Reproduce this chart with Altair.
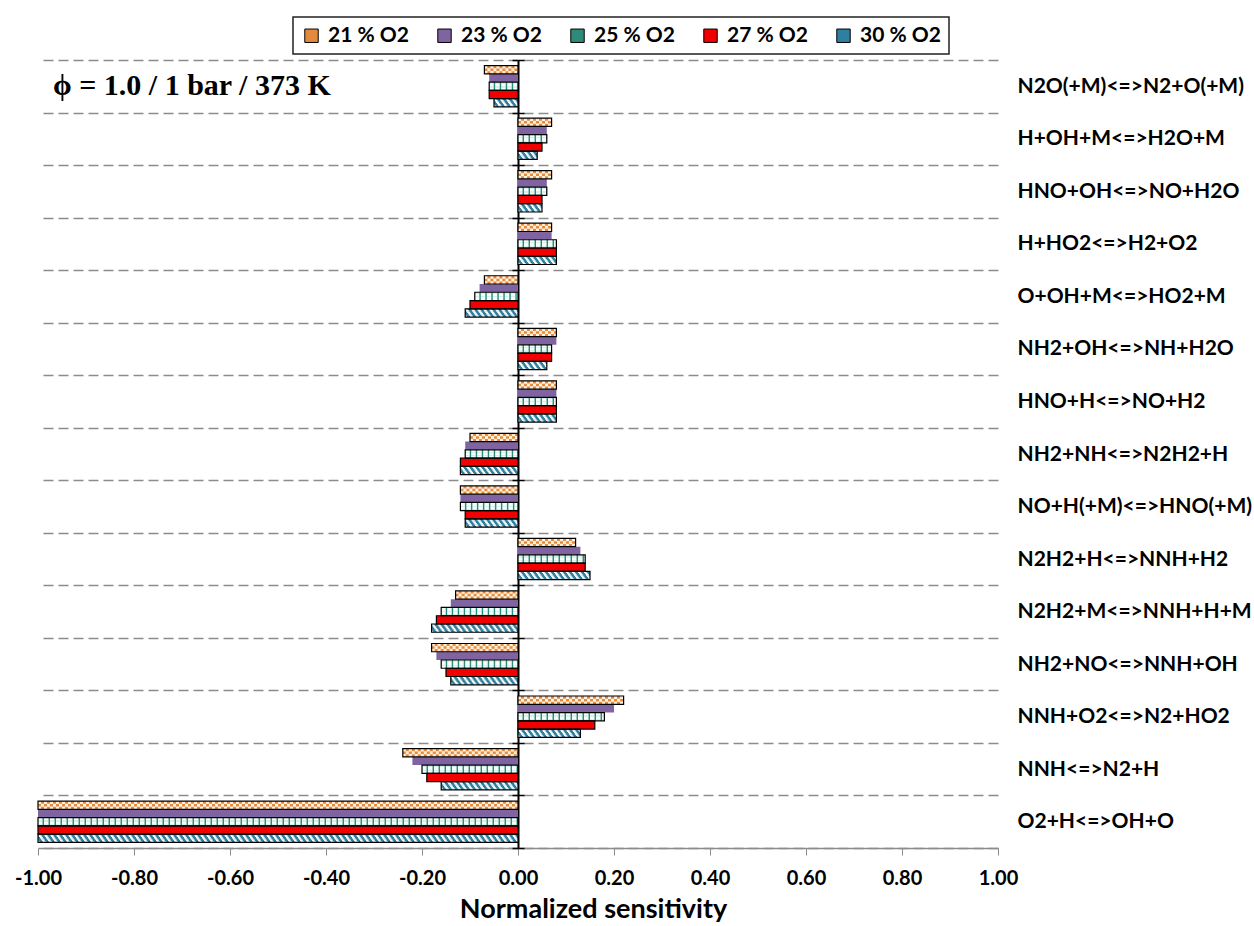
import altair as alt
import pandas as pd

# Reactions, top to bottom
categories = [
    "N2O(+M)<=>N2+O(+M)",
    "H+OH+M<=>H2O+M",
    "HNO+OH<=>NO+H2O",
    "H+HO2<=>H2+O2",
    "O+OH+M<=>HO2+M",
    "NH2+OH<=>NH+H2O",
    "HNO+H<=>NO+H2",
    "NH2+NH<=>N2H2+H",
    "NO+H(+M)<=>HNO(+M)",
    "N2H2+H<=>NNH+H2",
    "N2H2+M<=>NNH+H+M",
    "NH2+NO<=>NNH+OH",
    "NNH+O2<=>N2+HO2",
    "NNH<=>N2+H",
    "O2+H<=>OH+O",
]

series = ["21 % O2", "23 % O2", "25 % O2", "27 % O2", "30 % O2"]

# Normalized sensitivity coefficients per O2 level
s21 = [-0.07, 0.07, 0.07, 0.07, -0.07, 0.08, 0.08, -0.10, -0.12, 0.12, -0.13, -0.18, 0.22, -0.24, -1.00]
s23 = [-0.06, 0.06, 0.06, 0.07, -0.08, 0.08, 0.08, -0.11, -0.12, 0.13, -0.14, -0.17, 0.20, -0.22, -1.00]
s25 = [-0.06, 0.06, 0.06, 0.08, -0.09, 0.07, 0.08, -0.11, -0.12, 0.14, -0.16, -0.16, 0.18, -0.20, -1.00]
s27 = [-0.06, 0.05, 0.05, 0.08, -0.10, 0.07, 0.08, -0.12, -0.11, 0.14, -0.17, -0.15, 0.16, -0.19, -1.00]
s30 = [-0.05, 0.04, 0.05, 0.08, -0.11, 0.06, 0.08, -0.12, -0.11, 0.15, -0.18, -0.14, 0.13, -0.16, -1.00]

x_ticks = [-1.0, -0.8, -0.6, -0.4, -0.2, 0.0, 0.2, 0.4, 0.6, 0.8, 1.0]
condition_label = "ϕ = 1.0 / 1 bar / 373 K"

base_colors = ["#E38A3C", "#8064A2", "#2E8B7A", "#F00000", "#2F7FA0"]
FONT = "Lato"

rows = []
for cat, *vals in zip(categories, s21, s23, s25, s27, s30):
    for s, v in zip(series, vals):
        rows.append({"reaction": cat, "case": s, "value": v})
df = pd.DataFrame(rows)

# fine sub-rows inside each bar, used to paint the fill textures
K = 6
OUTER = 0.68
n_pad = int(OUTER * K)
slots = ([f"top{i}" for i in range(n_pad)]
         + [f"{s}|{k}" for s in series for k in range(K)]
         + [f"bot{i}" for i in range(n_pad)])
sub = df[df["case"] != "23 % O2"].merge(pd.DataFrame({"k": list(range(K))}), how="cross")
sub["slot"] = sub["case"] + "|" + sub["k"].astype(str)

W, H = 960, 788


def y_enc(axis):
    return alt.Y("reaction:N", sort=categories, title=None,
                 scale=alt.Scale(paddingInner=0, paddingOuter=0), axis=axis)


label_axis = alt.Axis(
    orient="right", title=None, domain=False, ticks=False, labelPadding=19,
    labelFont=FONT, labelFontWeight="bold", labelFontSize=21, labelColor="black",
    labelLimit=400, grid=True, gridDash=[10, 5], gridColor="#8c8c8c", gridWidth=1.3,
    tickBand="extent",
)

zero_axis = alt.Axis(
    orient="left", offset=-W / 2, title=None, labels=False, grid=False,
    domain=True, domainColor="black", domainWidth=2,
    ticks=True, tickColor="black", tickSize=6, tickWidth=1.5, tickBand="extent",
)

zero_axis_r = alt.Axis(
    orient="right", offset=-W / 2, title=None, labels=False, grid=False,
    domain=False, ticks=True, tickColor="black", tickSize=6, tickWidth=1.5,
    tickBand="extent",
)


def x_axis():
    # the same bottom axis is declared on every layer so that they merge into one
    return alt.Axis(
        orient="bottom", values=x_ticks, title="Normalized sensitivity",
        labelExpr="replace(format(datum.value, '.2f'), '\u2212', '-')",
        grid=False, domainColor="#8c8c8c", domainWidth=1.5, tickColor="#8c8c8c",
        tickSize=7, labelFont=FONT, labelFontSize=20, labelFontWeight="bold",
        labelColor="black", labelPadding=13, labelFlush=False,
        titleFont=FONT, titleFontSize=27, titleFontWeight="bold", titleColor="black",
        titlePadding=8, titleX=555, titleAlign="center",
    )


x_scale = alt.Scale(domain=[-1, 1], nice=False)

off_bar = alt.YOffset("case:N", sort=series,
                      scale=alt.Scale(domain=series, paddingInner=0, paddingOuter=OUTER))
off_sub = alt.YOffset("slot:N", sort=slots,
                      scale=alt.Scale(domain=slots, paddingInner=0,
                                      paddingOuter=OUTER * K - n_pad))

base = alt.Chart(df).mark_bar().encode(
    x=alt.X("value:Q", scale=x_scale, axis=x_axis()),
    y=y_enc(label_axis),
    yOffset=off_bar,
    fill=alt.Fill("case:N", sort=series,
                  scale=alt.Scale(domain=series, range=base_colors),
                  legend=alt.Legend(
                      orient="none", legendX=255, legendY=-43, direction="horizontal",
                      title=None, labelFont=FONT, labelFontSize=21, labelFontWeight="bold",
                      labelColor="black", symbolType="square", symbolSize=180,
                      symbolStrokeColor="black", symbolStrokeWidth=1, columnPadding=25,
                      labelOffset=6, padding=8, strokeColor="#222222", fillColor="white",
                  )),
)


def texture(case, ks, dash, offset, color, axis=None):
    data = sub[(sub["case"] == case) & (sub["k"].isin(ks))]
    return alt.Chart(data).transform_calculate(
        lo="min(0, datum.value)", hi="max(0, datum.value)"
    ).mark_rule(strokeWidth=H / 15 / (5 + 2 * OUTER) / K + 0.25, strokeDash=dash,
                strokeDashOffset=offset, color=color, strokeCap="butt").encode(
        x=alt.X("lo:Q", scale=x_scale, axis=x_axis()),
        x2="hi:Q",
        y=y_enc(axis),
        yOffset=off_sub,
    )


layers = [base]
# checkerboard
layers.append(texture("21 % O2", [0, 1, 4, 5], [3, 3], 0, "#FFF3E2"))
layers.append(texture("21 % O2", [2, 3], [3, 3], 3, "#FFF3E2"))
# vertical stripes
layers.append(texture("25 % O2", list(range(K)), [4.5, 1.5], 0, "#F2FFFA", axis=zero_axis_r))
# diagonal hatch
for k in range(K):
    layers.append(texture("30 % O2", [k], [2.6, 3.4], (K - k) % K, "white"))

outline = alt.Chart(df[df["case"] != "23 % O2"]).mark_bar(
    fillOpacity=0, stroke="black", strokeWidth=1.2
).encode(
    x=alt.X("value:Q", scale=x_scale, axis=x_axis()),
    y=y_enc(zero_axis),
    yOffset=off_bar,
)
layers.append(outline)

note = alt.Chart(pd.DataFrame({"t": [condition_label]})).mark_text(
    font="Liberation Serif", fontSize=30, fontWeight="bold", align="left",
    baseline="alphabetic", color="black",
).encode(text="t:N", x=alt.value(15), y=alt.value(35))
layers.append(note)

chart = alt.layer(*layers).resolve_scale(yOffset="independent").resolve_axis(
    y="independent"
).properties(
    width=W, height=H, background="white",
    autosize=alt.AutoSizeParams(type="none"),
    padding={"left": 38, "top": 60, "right": 256, "bottom": 78},
).configure_view(stroke=None).configure_legend(strokeWidth=1.5)

chart.save("out.html", embed_options={"renderer": "svg", "actions": False})
